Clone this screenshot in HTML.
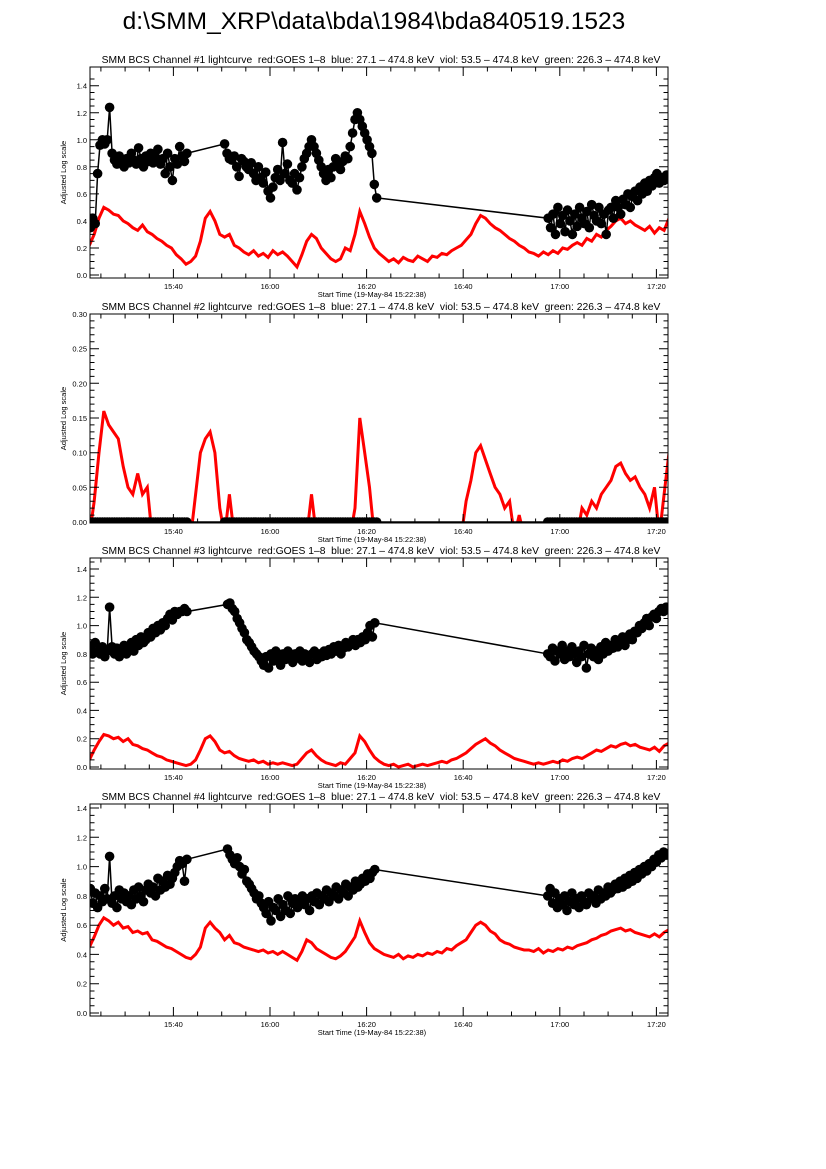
<!DOCTYPE html>
<html><head><meta charset="utf-8"><style>
html,body{margin:0;padding:0;background:#fff;}
svg{display:block;font-family:"Liberation Sans",sans-serif;}
</style></head><body>
<svg id="fig" width="826" height="1169" viewBox="0 0 826 1169">
<text x="374" y="29" font-size="24.5" text-anchor="middle">d:\SMM_XRP\data\bda\1984\bda840519.1523</text>
</svg>
<script>
// ---- data (time in minutes after 15:00) ----
const xTickLabels = ["15:40","16:00","16:20","16:40","17:00","17:20"];
const xTickTimes = [40,60,80,100,120,140];
const redT0 = 22.6, redStep = 1;
const p1Red = [0.22,0.3,0.42,0.5,0.48,0.45,0.44,0.4,0.38,0.35,0.33,
0.37,0.32,0.3,0.27,0.25,0.22,0.2,0.15,0.12,0.08,
0.1,0.14,0.25,0.42,0.47,0.4,0.3,0.28,0.3,0.22,
0.2,0.17,0.15,0.18,0.14,0.16,0.13,0.18,0.15,0.17,
0.14,0.1,0.06,0.15,0.25,0.3,0.27,0.2,0.16,0.12,
0.1,0.12,0.2,0.18,0.3,0.47,0.38,0.28,0.2,0.16,
0.13,0.1,0.12,0.09,0.13,0.11,0.1,0.14,0.12,0.1,
0.14,0.13,0.16,0.15,0.18,0.2,0.22,0.26,0.3,0.38,
0.44,0.42,0.38,0.35,0.33,0.3,0.27,0.25,0.22,0.2,
0.17,0.16,0.14,0.17,0.15,0.18,0.16,0.2,0.19,0.22,
0.24,0.22,0.27,0.25,0.3,0.28,0.33,0.36,0.4,0.42,
0.38,0.4,0.37,0.35,0.33,0.36,0.31,0.35,0.33,0.42];
const p2Red = [-0.02,0.03,0.1,0.16,0.14,0.13,0.12,0.08,0.05,0.04,0.07,
0.04,0.05,-0.02,-0.02,-0.02,-0.02,-0.02,-0.02,-0.02,-0.02,
-0.02,0.04,0.1,0.12,0.13,0.1,0.02,-0.02,0.04,-0.02,
-0.02,-0.02,-0.02,-0.02,-0.02,-0.02,-0.02,-0.02,-0.02,-0.02,
-0.02,-0.02,-0.02,-0.02,-0.02,0.04,-0.02,-0.02,-0.02,-0.02,
-0.02,-0.02,-0.02,-0.02,0.02,0.15,0.1,0.05,-0.02,-0.02,
-0.02,-0.02,-0.02,-0.02,-0.02,-0.02,-0.02,-0.02,-0.02,-0.02,
-0.02,-0.02,-0.02,-0.02,-0.02,-0.02,-0.02,0.03,0.06,0.1,
0.11,0.09,0.07,0.05,0.04,0.02,0.03,-0.02,0.01,-0.02,
-0.02,-0.02,-0.02,-0.02,-0.02,-0.02,-0.02,-0.02,-0.02,-0.02,
-0.02,0.02,0.01,0.03,0.02,0.04,0.05,0.06,0.08,0.085,
0.07,0.06,0.065,0.05,0.04,0.02,0.05,-0.02,0.04,0.1];
const p3Red = [0.05,0.12,0.18,0.23,0.22,0.2,0.21,0.18,0.2,0.16,0.15,
0.13,0.12,0.1,0.08,0.07,0.05,0.04,0.03,0.02,0.01,
0.02,0.05,0.12,0.2,0.22,0.18,0.12,0.1,0.11,0.08,
0.06,0.05,0.04,0.05,0.03,0.04,0.02,0.03,0.02,0.03,
0.02,0.01,0.02,0.06,0.1,0.12,0.08,0.05,0.03,0.02,
0.01,0.03,0.02,0.06,0.1,0.22,0.18,0.12,0.07,0.04,
0.02,0.01,0.02,0,0.01,0.02,0,0.01,0.02,0.01,
0.02,0.03,0.04,0.03,0.05,0.06,0.08,0.1,0.13,0.16,
0.18,0.2,0.17,0.15,0.12,0.1,0.08,0.06,0.05,0.04,
0.03,0.02,0.03,0.02,0.03,0.04,0.03,0.05,0.04,0.06,
0.07,0.06,0.08,0.1,0.12,0.11,0.13,0.15,0.14,0.16,
0.17,0.15,0.16,0.14,0.13,0.12,0.14,0.11,0.15,0.17];
const p4Red = [0.45,0.52,0.6,0.65,0.63,0.6,0.62,0.58,0.59,0.55,0.56,
0.54,0.55,0.5,0.49,0.47,0.45,0.44,0.42,0.4,0.38,
0.37,0.4,0.45,0.58,0.62,0.58,0.55,0.5,0.53,0.48,
0.47,0.45,0.44,0.43,0.42,0.43,0.41,0.42,0.4,0.42,
0.4,0.38,0.36,0.42,0.5,0.48,0.44,0.42,0.4,0.38,
0.37,0.39,0.42,0.47,0.52,0.63,0.55,0.48,0.44,0.42,
0.4,0.39,0.38,0.4,0.37,0.39,0.38,0.4,0.39,0.41,
0.4,0.42,0.41,0.44,0.43,0.46,0.48,0.5,0.55,0.6,
0.62,0.6,0.56,0.54,0.5,0.48,0.47,0.45,0.44,0.43,
0.43,0.42,0.44,0.41,0.43,0.42,0.44,0.43,0.45,0.44,
0.46,0.47,0.48,0.5,0.51,0.53,0.54,0.56,0.57,0.58,
0.56,0.57,0.55,0.54,0.53,0.52,0.54,0.52,0.55,0.57];
const dotStep = 0.5;
const segStarts1 = [22.8, 50.6, 117.6];
const p1SegA = [0.35,0.42,0.38,0.75,0.96,1.0,0.97,1.0,1.24,0.9,0.85,0.82,0.88,0.84,0.8,0.86,0.83,0.9,0.85,0.82,0.94,0.86,0.8,0.88,0.84,0.9,0.83,0.87,0.93,0.82,0.86,0.75,0.9,0.8,0.7,0.86,0.82,0.95,0.88,0.84,0.9];
const p1SegB = [0.97,0.9,0.86,0.85,0.88,0.8,0.73,0.86,0.84,0.8,0.78,0.83,0.75,0.7,0.8,0.72,0.68,0.76,0.62,0.57,0.65,0.72,0.78,0.7,0.98,0.75,0.82,0.7,0.68,0.75,0.63,0.72,0.8,0.86,0.9,0.95,1.0,0.95,0.9,0.85,0.8,0.75,0.7,0.78,0.72,0.8,0.86,0.82,0.78,0.84,0.88,0.86,0.95,1.05,1.15,1.2,1.15,1.1,1.05,1.0,0.95,0.9,0.67,0.57];
const p1SegC = [0.42,0.35,0.45,0.3,0.5,0.38,0.44,0.32,0.48,0.4,0.3,0.45,0.36,0.5,0.42,0.38,0.47,0.35,0.52,0.44,0.4,0.5,0.38,0.45,0.3,0.48,0.5,0.42,0.55,0.5,0.45,0.56,0.52,0.6,0.5,0.58,0.62,0.55,0.65,0.6,0.68,0.62,0.7,0.66,0.72,0.75,0.68,0.72,0.7,0.74];
const segStarts2 = [22.8, 50.6, 117.5];
const p2SegCounts = [41, 64, 50];
const segStarts3 = [22.8, 51.2, 117.5];
const p3SegA = [0.85,0.8,0.88,0.82,0.8,0.85,0.78,0.82,1.13,0.85,0.8,0.84,0.78,0.82,0.86,0.8,0.84,0.88,0.82,0.9,0.86,0.92,0.88,0.9,0.95,0.92,0.98,0.95,1.0,0.97,1.02,1.0,1.05,1.08,1.04,1.1,1.08,1.1,1.1,1.12,1.1];
const p3SegB = [1.15,1.16,1.12,1.1,1.05,1.02,0.98,0.95,0.9,0.88,0.85,0.82,0.8,0.78,0.75,0.72,0.78,0.7,0.8,0.75,0.82,0.78,0.72,0.8,0.76,0.82,0.78,0.74,0.8,0.77,0.82,0.75,0.8,0.78,0.74,0.8,0.82,0.76,0.8,0.78,0.82,0.79,0.83,0.8,0.85,0.82,0.86,0.8,0.84,0.88,0.85,0.87,0.9,0.86,0.9,0.88,0.92,0.9,0.95,1.0,0.92,1.02];
const p3SegC = [0.8,0.78,0.84,0.75,0.82,0.8,0.86,0.76,0.82,0.78,0.85,0.8,0.74,0.82,0.78,0.86,0.7,0.8,0.84,0.78,0.82,0.76,0.85,0.8,0.88,0.82,0.86,0.84,0.9,0.85,0.88,0.92,0.86,0.9,0.94,0.9,0.96,0.95,1.0,0.98,1.02,1.05,1.0,1.06,1.08,1.05,1.1,1.12,1.1,1.13];
const p4SegA = [0.85,0.75,0.82,0.72,0.8,0.76,0.85,0.78,1.07,0.75,0.8,0.72,0.84,0.78,0.82,0.76,0.8,0.74,0.84,0.78,0.86,0.8,0.76,0.84,0.88,0.82,0.86,0.8,0.92,0.84,0.9,0.86,0.94,0.88,0.92,0.96,1.0,1.04,1.02,0.9,1.05];
const p4SegB = [1.12,1.08,1.05,1.02,1.06,1.0,0.95,0.98,0.9,0.88,0.85,0.82,0.78,0.8,0.75,0.72,0.68,0.76,0.63,0.72,0.7,0.78,0.66,0.74,0.7,0.8,0.68,0.75,0.78,0.72,0.76,0.8,0.74,0.78,0.7,0.8,0.76,0.82,0.74,0.8,0.78,0.84,0.76,0.82,0.8,0.86,0.78,0.84,0.82,0.88,0.8,0.86,0.84,0.9,0.86,0.88,0.92,0.9,0.95,0.92,0.96,0.98];
const p4SegC = [0.8,0.85,0.75,0.82,0.72,0.78,0.74,0.8,0.7,0.76,0.82,0.74,0.78,0.72,0.8,0.76,0.74,0.82,0.78,0.8,0.75,0.84,0.78,0.82,0.8,0.86,0.82,0.84,0.88,0.85,0.9,0.86,0.92,0.88,0.94,0.9,0.96,0.92,0.98,0.95,1.0,0.97,1.02,1.0,1.05,1.03,1.08,1.06,1.1,1.08];

const NS = "http://www.w3.org/2000/svg";
const svg = document.getElementById('fig');
const X0 = 90, X1 = 668;
function xOf(t){ return 270 + (t - 60) * 4.83; }
function mk(tag, attrs, parent){
  const e = document.createElementNS(NS, tag);
  for (const k in attrs) e.setAttribute(k, attrs[k]);
  (parent || svg).appendChild(e);
  return e;
}
const panels = [
  {n:1, top:67, bot:278, y0:275, pxu:135.2, vmax:1.4, major:0.2, minor:0.05, dec:1,
   red:p1Red, starts:segStarts1, segs:[p1SegA,p1SegB,p1SegC]},
  {n:2, top:314, bot:523, y0:522, pxu:208/0.3, vmax:0.3, major:0.05, minor:0.01, dec:2,
   red:p2Red, starts:segStarts2, segs:p2SegCounts.map(c => new Array(c).fill(0))},
  {n:3, top:558, bot:769, y0:767, pxu:141.4, vmax:1.4, major:0.2, minor:0.05, dec:1,
   red:p3Red, starts:segStarts3, segs:[p3SegA,p3SegB,p3SegC]},
  {n:4, top:804, bot:1016, y0:1013, pxu:146.4, vmax:1.4, major:0.2, minor:0.05, dec:1,
   red:p4Red, starts:segStarts3, segs:[p4SegA,p4SegB,p4SegC]}
];
const defs = mk('defs', {});
panels.forEach(p => {
  const g = mk('g', {});
  
  
  const yOf = v => p.y0 - v * p.pxu;
  const cp = mk('clipPath', {id:'clip' + p.n}, defs);
  mk('rect', {x:X0, y:p.top, width:X1 - X0, height:p.bot - p.top}, cp);
  const tt = mk('text', {x:(X0 + X1) / 2 + 2, y:p.top - 4, 'font-size':10.3, 'text-anchor':'middle'}, g);
  tt.textContent = 'SMM BCS Channel #' + p.n + ' lightcurve  red:GOES 1\u20138  blue: 27.1 \u2013 474.8 keV  viol: 53.5 \u2013 474.8 keV  green: 226.3 \u2013 474.8 keV';
  tt.setAttribute('style', 'white-space:pre');
  
  
  const dg = mk('g', {'clip-path':'url(#clip' + p.n + ')'}, g);
  let d = '';
  p.red.forEach((v, i) => { d += (i ? 'L' : 'M') + xOf(redT0 + i * redStep).toFixed(1) + ',' + yOf(v).toFixed(1); });
  const rl = mk('path', {d:d, fill:'none', stroke:'#f00', 'stroke-width':3, 'stroke-linejoin':'miter'}, dg);
  
  
  let bd = '';
  let first = true;
  p.segs.forEach((seg, s) => seg.forEach((v, i) => {
    bd += (first ? 'M' : 'L') + xOf(p.starts[s] + i * dotStep).toFixed(1) + ',' + yOf(v).toFixed(1);
    first = false;
  }));
  const bl = mk('path', {d:bd, fill:'none', stroke:'#000', 'stroke-width':1.5}, dg);
  
  
  p.segs.forEach((seg, s) => seg.forEach((v, i) => {
    const c = mk('circle', {cx:xOf(p.starts[s] + i * dotStep).toFixed(1), cy:yOf(v).toFixed(1), r:4.8, fill:'#000'}, dg);
    
    
  }));
  const fr = mk('rect', {x:X0, y:p.top, width:X1 - X0, height:p.bot - p.top, fill:'none', stroke:'#000', 'stroke-width':1}, g);
  
  
  let td = '';
  const nMin = Math.round((p.vmax + p.minor * 1.5) / p.minor);
  for (let k = 0; k <= nMin; k++) {
    const v = k * p.minor, y = yOf(v);
    if (y < p.top - 0.5) break;
    const isMaj = Math.abs(v / p.major - Math.round(v / p.major)) < 1e-6;
    const L = isMaj ? 9 : 4.5;
    td += 'M' + X0 + ',' + y.toFixed(1) + 'h' + L + 'M' + X1 + ',' + y.toFixed(1) + 'h' + (-L);
    if (isMaj && v <= p.vmax + 1e-6) {
      const lb = mk('text', {x:X0 - 3, y:y + 3, 'font-size':7.5, 'text-anchor':'end'}, g);
      lb.textContent = v.toFixed(p.dec);
      
      
    }
  }
  for (let t = 25; t <= 142; t += 5) {
    const x = xOf(t).toFixed(1);
    const L = (t % 20 === 0) ? 9 : 4.5;
    td += 'M' + x + ',' + p.bot + 'v' + (-L) + 'M' + x + ',' + p.top + 'v' + L;
  }
  const tk = mk('path', {d:td, stroke:'#000', 'stroke-width':1, fill:'none'}, g);
  
  
  xTickLabels.forEach((lab, i) => {
    const t = mk('text', {x:xOf(xTickTimes[i]), y:p.bot + 11, 'font-size':7.5, 'text-anchor':'middle'}, g);
    t.textContent = lab;
    
    
  });
  const xt = mk('text', {x:372, y:p.bot + 19, 'font-size':7.5, 'text-anchor':'middle'}, g);
  xt.textContent = 'Start Time (19-May-84 15:22:38)';
  
  
  const ym = (p.top + p.bot) / 2;
  const yt = mk('text', {x:0, y:0, 'font-size':7.5, 'text-anchor':'middle', transform:'translate(66,' + ym + ') rotate(-90)'}, g);
  yt.textContent = 'Adjusted Log scale';
  
  
});
</script>
</body></html>
